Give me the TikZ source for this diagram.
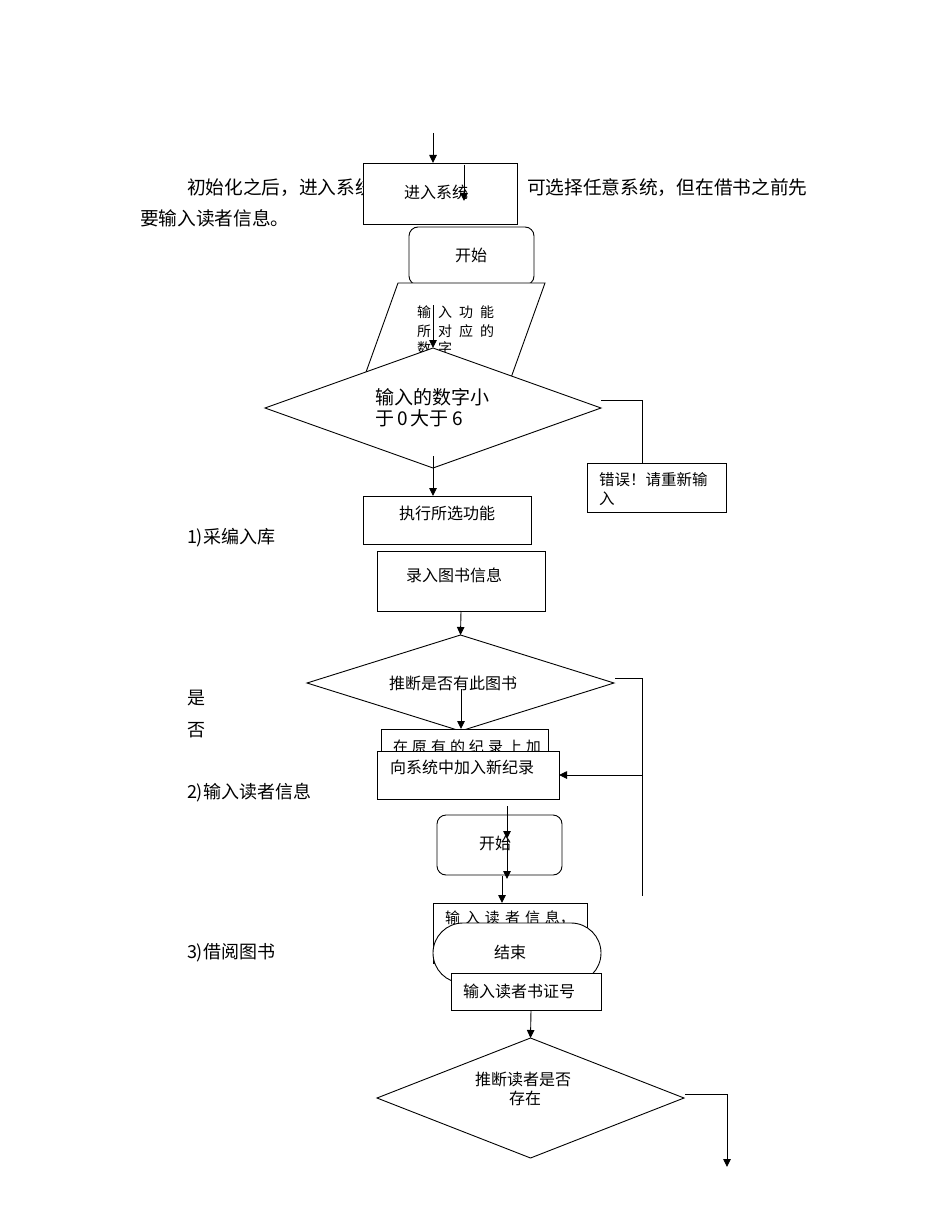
\documentclass[tikz,border=0pt]{standalone}
\usepackage{fontspec}
\setmainfont{Noto Sans CJK SC}
\usetikzlibrary{arrows.meta,shapes.geometric}
\begin{document}
\begin{tikzpicture}[x=1pt,y=-1pt,
  shp/.style={draw, fill=white, line width=0.9pt, inner sep=0pt, outer sep=0pt},
  rbox/.style={shp, rectangle},
  rnd/.style={shp, rectangle, rounded corners=9pt},
  dia/.style={shp, diamond},
  txt/.style={inner sep=0pt, outer sep=0pt, font=\fontsize{16}{18}\selectfont},
  sm/.style={inner sep=0pt, outer sep=0pt, anchor=west, font=\fontsize{15}{17}\selectfont},
  big/.style={inner sep=0pt, outer sep=0pt, anchor=west, font=\fontsize{18.7}{20}\selectfont},
  lab/.style={inner sep=0pt, outer sep=0pt, anchor=west, font=\fontsize{18}{20}\selectfont},
  ln/.style={line width=0.9pt},
  arr/.style={line width=0.9pt, -{Triangle[length=8pt,width=7.5pt]}}]
\fill[white] (0,0) rectangle (950,1230);
\useasboundingbox (0,0) rectangle (950,1230);

% paragraph text
\node[big] (p1a) at (187,188) {初始化之后，进入系统};
\node[big] (p1b) at (527,188) {可选择任意系统，但在借书之前先};
\node[big] (p2) at (140,218) {要输入读者信息。};

% first flow
\coordinate (top0) at (433,133);
\node[rbox, minimum width=154, minimum height=61] (b1) at (440,193.5) {};
\draw[arr] (top0) -- (top0 |- b1.north);
\node[txt] (b1t) at (436,192) {进入系统};
\coordinate (s1) at (464,165);
\coordinate (s2) at (464,201);
\draw[arr] (s1) -- (s2);

\node[rnd, minimum width=125, minimum height=58] (st1) at (471.5,256) {};
\node[txt] (st1t) at (471,255) {开始};

\draw[ln, fill=white] (398,283) -- (545,283) -- (503,400) -- (356,400) -- cycle;
\node[sm, font=\fontsize{14}{16}\selectfont] (pt1) at (417,312) {输\hspace{7pt}入\hspace{7pt}功\hspace{7pt}能};
\node[sm, font=\fontsize{14}{16}\selectfont] (pt2) at (417,331) {所\hspace{7pt}对\hspace{7pt}应\hspace{7pt}的};
\node[sm, font=\fontsize{14}{16}\selectfont] (pt3) at (417,348) {数\hspace{7pt}字};

\node[dia, minimum width=336, minimum height=120] (d1) at (433,408) {};
\coordinate (pa) at (433,305);
\draw[arr] (pa) -- (d1.north);
\node[sm, font=\fontsize{19}{21}\selectfont] (d1t1) at (375,397) {输入的数字小};
\node[sm, font=\fontsize{19}{21}\selectfont] (d1t2) at (375,418) {于\,0\,大于\,6};

\node[rbox, minimum width=139, minimum height=49] (err) at (656.5,487.5) {};
\node[sm, font=\fontsize{15.5}{17}\selectfont] (errt1) at (599,480) {错误！请重新输};
\node[sm, font=\fontsize{15.5}{17}\selectfont] (errt2) at (599,499) {入};
\coordinate (d1r) at (601,400);
\coordinate (d1rc) at (642,400);
\draw[ln] (d1r) -- (d1rc) -- (d1rc |- err.north);

\node[rbox, minimum width=168, minimum height=48] (exec) at (447,520) {};
\node[txt] (exect) at (447,513) {执行所选功能};
\coordinate (d1b) at (433,456);
\draw[arr] (d1b) -- (d1b |- exec.north);

\node[lab] (l1) at (187,538) {1)采编入库};

\node[rbox, minimum width=168, minimum height=60] (lr) at (461,581) {};
\node[txt] (lrt) at (454,575) {录入图书信息};

\node[dia, minimum width=307, minimum height=96] (d2) at (460.5,683) {};
\draw[arr] (lr.south) -- (d2.north);
\node[txt] (d2t) at (453,683) {推断是否有此图书};

\node[lab] (yes) at (187,698) {是};
\node[lab] (no) at (187,730) {否};

\node[rbox, minimum width=167, minimum height=46] (orig) at (464.5,752) {};
\coordinate (d2in) at (461,689);
\draw[arr] (d2in) -- (d2in |- orig.north);
\node[sm] (origt) at (393,747) {在\hspace{4pt}原\hspace{4pt}有\hspace{4pt}的\hspace{4pt}纪\hspace{4pt}录\hspace{4pt}上\hspace{4pt}加};
\node[rbox, minimum width=182, minimum height=48] (new) at (468,775) {};
\node[sm, font=\fontsize{16}{18}\selectfont] (newt) at (390,767) {向系统中加入新纪录};

\coordinate (d2r) at (615,678);
\coordinate (d2rc) at (642,678);
\coordinate (vend) at (642,896);
\coordinate (vmid) at (642,775);
\draw[ln] (d2r) -- (d2rc) -- (vend);
\draw[arr] (vmid) -- (new.east);

\node[lab] (l2) at (187,793) {2)输入读者信息};

\node[rnd, minimum width=125, minimum height=60] (st2) at (499.5,845) {};
\node[txt] (st2t) at (495,843) {开始};
\coordinate (a1) at (507,806);
\coordinate (a2) at (507,839);
\coordinate (a3) at (507,879);
\draw[arr] (a1) -- (a2);
\draw[arr] (a2) -- (a3);

\node[rbox, minimum width=154, minimum height=60] (rd) at (510,933) {};
\coordinate (a4) at (502,876);
\draw[arr] (a4) -- (a4 |- rd.north);
\node[sm] (rdt) at (445,918) {输\hspace{5pt}入\hspace{5pt}读\hspace{5pt}者\hspace{5pt}信\hspace{5pt}息，};

\node[shp, rectangle, rounded corners=30pt, minimum width=168, minimum height=60] (end) at (517,953) {};
\node[txt] (endt) at (510,952) {结束};

\node[lab] (l3) at (187,953) {3)借阅图书};

\node[rbox, minimum width=150, minimum height=37] (id) at (526,991.5) {};
\node[txt] (idt) at (519,991) {输入读者书证号};

\node[dia, minimum width=307, minimum height=120] (d3) at (530.5,1098) {};
\coordinate (idb) at (531,1010);
\draw[arr] (idb) -- (d3.north);
\node[txt] (d3t1) at (523,1079) {推断读者是否};
\node[txt] (d3t2) at (525,1098) {存在};

\coordinate (d3r) at (685,1094);
\coordinate (d3rc) at (727,1094);
\coordinate (d3e) at (727,1167);
\draw[ln] (d3r) -- (d3rc);
\draw[arr] (d3rc) -- (d3e);
\end{tikzpicture}
\end{document}
